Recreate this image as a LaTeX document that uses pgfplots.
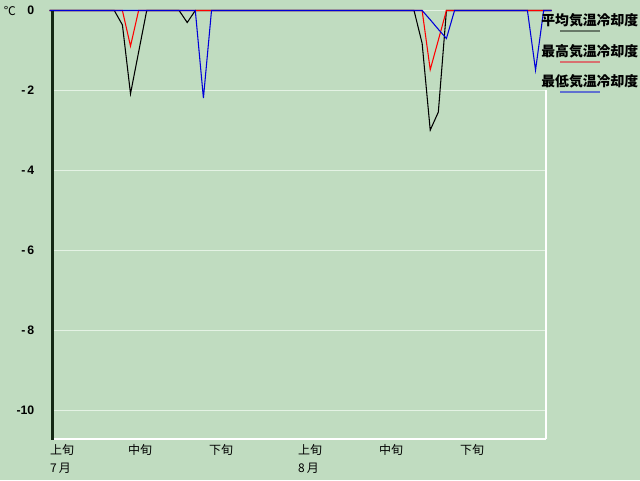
\documentclass[border=0pt]{standalone}
\usepackage{pgfplots}
\usepackage{pgfplotstable}
\pgfplotsset{compat=1.18}
\usepackage{fontspec}
\setmainfont{Liberation Sans}
\newfontfamily\jp{Noto Sans CJK JP}

\definecolor{bgc}{HTML}{C0DCC0}
\definecolor{gridc}{HTML}{E4F2E4}
\definecolor{axdark}{HTML}{142814}
\definecolor{legblack}{HTML}{687868}
\definecolor{legred}{HTML}{D87070}
\definecolor{legblue}{HTML}{6070D0}

% day index (0 = 7/1), 平均, 最高, 最低 cooling degree
\pgfplotstableread{
d avg max min
0 0 0 0
1 0 0 0
2 0 0 0
3 0 0 0
4 0 0 0
5 0 0 0
6 0 0 0
7 0 0 0
8 0 0 0
9 -0.36 0 0
10 -2.08 -0.89 0
11 -1.04 0 0
12 0 0 0
13 0 0 0
14 0 0 0
15 0 0 0
16 0 0 0
17 -0.30 0 0
18 0 0 0
19 0 0 -2.19
20 0 0 0
21 0 0 0
22 0 0 0
23 0 0 0
24 0 0 0
25 0 0 0
26 0 0 0
27 0 0 0
28 0 0 0
29 0 0 0
30 0 0 0
31 0 0 0
32 0 0 0
33 0 0 0
34 0 0 0
35 0 0 0
36 0 0 0
37 0 0 0
38 0 0 0
39 0 0 0
40 0 0 0
41 0 0 0
42 0 0 0
43 0 0 0
44 0 0 0
45 0 0 0
46 -0.82 0 0
47 -2.99 -1.48 -0.23
48 -2.54 -0.74 -0.47
49 0 0 -0.70
50 0 0 0
51 0 0 0
52 0 0 0
53 0 0 0
54 0 0 0
55 0 0 0
56 0 0 0
57 0 0 0
58 0 0 0
59 0 0 0
60 0 0 -1.49
61 0 0 0
62 0 0 0
}\cooling

\begin{document}
\begin{tikzpicture}
% pixel grid of the 640x480 reference
\begin{scope}[x=0.75pt, y=-0.75pt, shift={(-39.375pt,328.5pt)}]
  \fill[bgc] (0,0) rectangle (640,480);
\end{scope}

\begin{axis}[
    at={(0,0)}, anchor=south west,
    scale only axis,
    width=369.75pt, height=320.625pt,
    xmin=0.37, xmax=61.23,
    ymin=-10.6875, ymax=0,
    clip=false,
    axis line style={draw=none},
    major tick length=0pt,
    ytick={0,-2,-4,-6,-8,-10},
    yticklabels={0,{-\,2},{-\,4},{-\,6},{-\,8},{-10}},
    yticklabel style={font=\fontsize{9.2}{10}\selectfont\bfseries, anchor=east, inner sep=0pt, xshift=-13.5pt},
    ymajorgrids,
    grid style={gridc, line width=0.75pt},
    xtick={0.37,10,20,31,41,51},
    xticklabels={{上旬\\7\,月},{中旬},{下旬},{上旬\\8\,月},{中旬},{下旬}},
    xticklabel style={font=\jp\fontsize{9}{13.5}\selectfont, anchor=north west, align=left, inner sep=0pt, yshift=-4.5pt, xshift=-2pt},
]
\addplot[black, line width=0.8pt] table[x=d, y=avg] {\cooling};
\addplot[red, line width=0.8pt] table[x=d, y=max] {\cooling};
\addplot[blue!85!black, line width=0.8pt] table[x=d, y=min] {\cooling};
\end{axis}

\begin{scope}[x=0.75pt, y=-0.75pt, shift={(-39.375pt,328.5pt)}]
  % frame
  \draw[axdark, line width=2.25pt] (53,10.5) -- (53,440);
  \draw[white, line width=1.5pt] (54,438.5) -- (546,438.5);
  \draw[white, line width=1.5pt] (545.5,90) -- (545.5,439);
  \node[font=\jp\fontsize{9}{10}\selectfont, inner sep=0pt] at (10,11) {℃};
  % legend
  \foreach \t/\c/\y in {平均気温冷却度/legblack/20, 最高気温冷却度/legred/51, 最低気温冷却度/legblue/81}{
    \node[anchor=west, inner sep=0pt, font=\jp\fontsize{10.4}{12}\selectfont\bfseries] at (541,\y) {\t};
    \draw[\c, line width=1.6pt] (560,\y+11) -- (600,\y+11);
  }
\end{scope}
\end{tikzpicture}
\end{document}
